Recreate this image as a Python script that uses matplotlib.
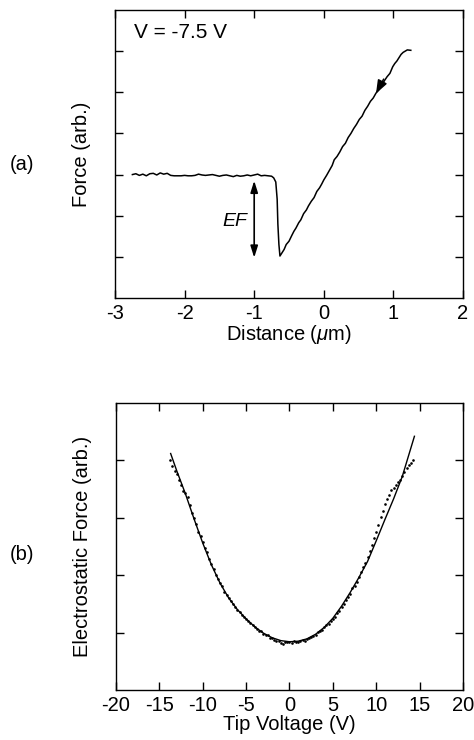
import numpy as np
import matplotlib
matplotlib.use("Agg")
import matplotlib.pyplot as plt

plt.rcParams['font.family'] = ['Liberation Sans', 'DejaVu Sans']
plt.rcParams['mathtext.fontset'] = 'custom'
plt.rcParams['mathtext.rm'] = 'Liberation Sans'
plt.rcParams['mathtext.it'] = 'Liberation Sans:italic'
plt.rcParams['axes.unicode_minus'] = False

# (a) force vs distance at V = -7.5 V
dist = [-2.75, -2.70, -2.65, -2.60, -2.55, -2.50, -2.45, -2.40, -2.35, -2.30,
        -2.25, -2.20, -2.15, -2.10, -2.05, -2.00, -1.95, -1.90, -1.85, -1.80,
        -1.75, -1.70, -1.65, -1.60, -1.55, -1.50, -1.45, -1.40, -1.35, -1.30,
        -1.25, -1.20, -1.15, -1.10, -1.05, -1.00, -0.95, -0.90, -0.85, -0.80,
        -0.75, -0.72, -0.69, -0.67, -0.66, -0.645,
        -0.63, -0.60, -0.57, -0.54, -0.50, -0.46, -0.43, -0.40, -0.36, -0.33,
        -0.29, -0.25, -0.22, -0.18, -0.14, -0.10, -0.06, -0.03, 0.00, 0.04,
        0.08, 0.12, 0.15, 0.19, 0.23, 0.27, 0.31, 0.35, 0.39, 0.43,
        0.47, 0.51, 0.55, 0.59, 0.63, 0.67, 0.71, 0.75, 0.79, 0.83,
        0.87, 0.91, 0.95, 0.99, 1.02, 1.05, 1.08, 1.11, 1.14, 1.17,
        1.20, 1.25]
force = [3.00, 3.02, 2.98, 3.01, 2.97, 3.02, 3.03, 2.99, 3.04, 3.01,
         3.03, 2.98, 2.97, 2.97, 2.97, 2.98, 2.97, 2.97, 2.98, 3.01,
         2.99, 2.98, 2.99, 3.00, 2.98, 2.96, 2.98, 2.99, 2.97, 2.95,
         2.98, 2.96, 2.97, 2.99, 2.97, 2.99, 3.01, 2.97, 2.98, 2.97,
         2.96, 2.92, 2.82, 2.40, 1.80, 1.30,
         1.02, 1.10, 1.18, 1.30, 1.38, 1.52, 1.62, 1.70, 1.83, 1.90,
         2.05, 2.14, 2.24, 2.35, 2.44, 2.59, 2.68, 2.77, 2.87, 2.98,
         3.10, 3.22, 3.36, 3.44, 3.55, 3.68, 3.76, 3.90, 4.00, 4.12,
         4.22, 4.34, 4.42, 4.56, 4.66, 4.78, 4.86, 4.98, 5.06, 5.16,
         5.28, 5.38, 5.46, 5.62, 5.70, 5.76, 5.84, 5.92, 5.97, 6.00,
         6.03, 6.02]

# (b) electrostatic force vs tip voltage
fit_v = [-13.7, -13, -12, -11, -10, -9, -8, -7, -6, -5, -4, -3, -2, -1, 0,
         1, 2, 3, 4, 5, 6, 7, 8, 9, 10, 11, 12, 13, 14, 14.4]
fit_f = [4.12, 3.82, 3.42, 2.98, 2.56, 2.18, 1.86, 1.60, 1.40, 1.24, 1.10,
         0.99, 0.91, 0.86, 0.84, 0.85, 0.89, 0.97, 1.09, 1.25, 1.46, 1.70,
         1.96, 2.24, 2.60, 2.97, 3.33, 3.72, 4.22, 4.42]

dot_v = [-13.75, -13.5, -13.25, -13.0, -12.75, -12.5, -12.25, -12.0, -11.75, -11.5,
         -11.25, -11.0, -10.75, -10.5, -10.25, -10.0, -9.75, -9.5, -9.25, -9.0,
         -8.75, -8.5, -8.25, -8.0, -7.75, -7.5, -7.25, -7.0, -6.75, -6.5,
         -6.25, -6.0, -5.75, -5.5, -5.25, -5.0, -4.75, -4.5, -4.25, -4.0,
         -3.75, -3.5, -3.25, -3.0, -2.75, -2.5, -2.25, -2.0, -1.75, -1.5,
         -1.25, -1.0, -0.75, -0.5, -0.25, 0.0, 0.25, 0.5, 0.75, 1.0,
         1.25, 1.5, 1.75, 2.0, 2.25, 2.5, 2.75, 3.0, 3.25, 3.5,
         3.75, 4.0, 4.25, 4.5, 4.75, 5.0, 5.25, 5.5, 5.75, 6.0,
         6.25, 6.5, 6.75, 7.0, 7.25, 7.5, 7.75, 8.0, 8.25, 8.5,
         8.75, 9.0, 9.25, 9.5, 9.75, 10.0, 10.25, 10.5, 10.75, 11.0,
         11.25, 11.5, 11.75, 12.0, 12.25, 12.5, 12.75, 13.0, 13.25, 13.5,
         13.75, 14.0, 14.25]
dot_f = [4.00, 3.90, 3.82, 3.76, 3.66, 3.57, 3.46, 3.43, 3.36, 3.22,
         3.08, 3.00, 2.90, 2.76, 2.68, 2.57, 2.47, 2.40, 2.28, 2.20,
         2.10, 2.01, 1.94, 1.86, 1.81, 1.71, 1.66, 1.60, 1.55, 1.49,
         1.45, 1.40, 1.36, 1.30, 1.28, 1.23, 1.21, 1.16, 1.14, 1.09,
         1.07, 1.03, 1.02, 0.98, 0.95, 0.95, 0.91, 0.90, 0.87, 0.85,
         0.86, 0.82, 0.80, 0.83, 0.84, 0.83, 0.82, 0.85, 0.84, 0.83,
         0.86, 0.87, 0.86, 0.89, 0.91, 0.92, 0.94, 0.95, 1.01, 1.02,
         1.05, 1.10, 1.13, 1.15, 1.21, 1.24, 1.28, 1.34, 1.37, 1.44,
         1.50, 1.56, 1.62, 1.68, 1.77, 1.82, 1.88, 1.96, 2.05, 2.14,
         2.22, 2.32, 2.42, 2.52, 2.65, 2.76, 2.88, 3.02, 3.12, 3.24,
         3.33, 3.40, 3.48, 3.52, 3.58, 3.62, 3.66, 3.72, 3.79, 3.86,
         3.92, 3.95, 4.01]

fig = plt.figure(figsize=(4.74, 7.4), dpi=100)
ax1 = fig.add_axes([0.2426, 0.5973, 0.7342, 0.3892])
ax2 = fig.add_axes([0.2447, 0.0676, 0.7321, 0.3878])

for ax in (ax1, ax2):
    ax.tick_params(direction='in', length=6, width=1, top=True, right=True,
                   labelsize=14.5, pad=4)
    for s in ax.spines.values():
        s.set_linewidth(1)

ax1.plot(dist, force, color='k', lw=1.1)
ax1.set_xlim(-3, 2)
ax1.set_ylim(0, 7)
ax1.set_xticks([-3, -2, -1, 0, 1, 2])
ax1.set_yticks([1, 2, 3, 4, 5, 6])
ax1.set_yticklabels([])
ax1.set_xlabel(r'Distance ($\mu$m)', fontsize=14.5, labelpad=0)
ax1.set_ylabel('Force (arb.)', fontsize=14.5, labelpad=13)
ax1.text(-2.72, 6.46, 'V = -7.5 V', fontsize=15, ha='left', va='center')
ax1.annotate('', xy=(-1.0, 0.98), xytext=(-1.0, 2.85),
             arrowprops=dict(arrowstyle='<|-|>,head_length=0.7,head_width=0.22',
                             color='k', lw=1.2, shrinkA=0, shrinkB=0))
ax1.text(-1.1, 1.85, 'EF', fontsize=14, style='italic', ha='right', va='center')
ax1.annotate('', xy=(0.75, 4.97), xytext=(0.86, 5.32),
             arrowprops=dict(arrowstyle='-|>,head_length=0.8,head_width=0.3',
                             color='k', lw=1.1, shrinkA=0, shrinkB=0))

ax2.plot(fit_v, fit_f, color='k', lw=1.0)
ax2.plot(dot_v, dot_f, 'o', color='k', markersize=1.9, markeredgewidth=0)
ax2.set_xlim(-20, 20)
ax2.set_ylim(0, 5)
ax2.set_xticks([-20, -15, -10, -5, 0, 5, 10, 15, 20])
ax2.set_yticks([1, 2, 3, 4])
ax2.set_yticklabels([])
ax2.set_xlabel('Tip Voltage (V)', fontsize=14.5, labelpad=0)
ax2.set_ylabel('Electrostatic Force (arb.)', fontsize=14.5, labelpad=13)

fig.text(22 / 474, 1 - 165 / 740, '(a)', fontsize=14.5, ha='center', va='center')
fig.text(22 / 474, 1 - 555 / 740, '(b)', fontsize=14.5, ha='center', va='center')

fig.savefig('out.png', dpi=100)
